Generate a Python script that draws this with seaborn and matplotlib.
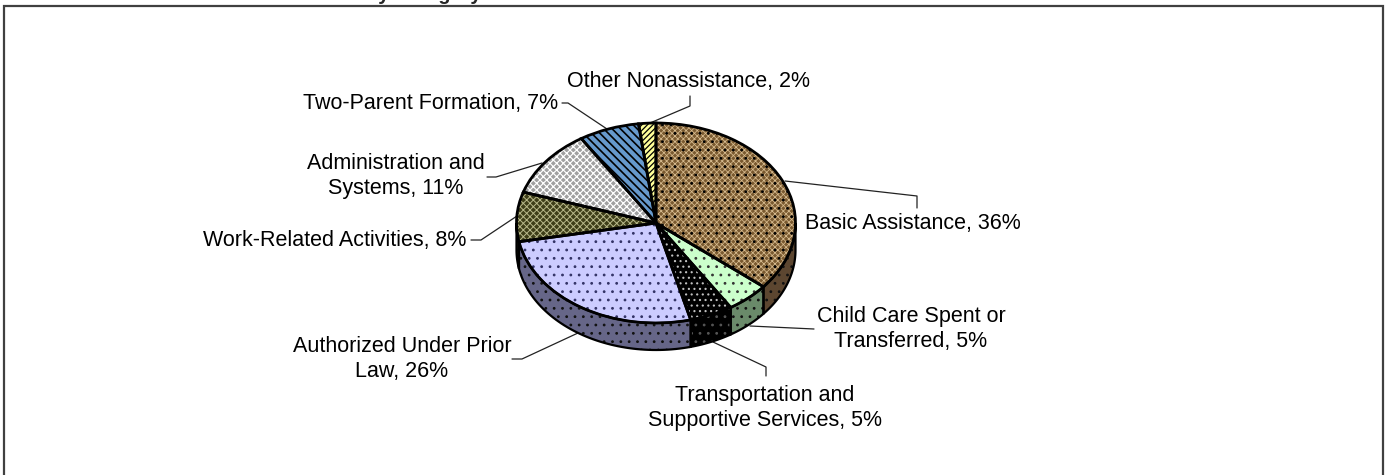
import matplotlib
matplotlib.use("Agg")
import matplotlib.pyplot as plt
import numpy as np
import seaborn as sns
from matplotlib.patches import Rectangle

# Values
categories = [
    "Basic Assistance", "Child Care Spent or\nTransferred",
    "Transportation and\nSupportive Services", "Authorized Under Prior\nLaw",
    "Work-Related Activities", "Administration and\nSystems",
    "Two-Parent Formation", "Other Nonassistance",
]
shares = [36, 5, 5, 26, 8, 11, 7, 2]

top_colors = ["#7A5A30", "#CCFFCC", "#000000", "#CCCCFF", "#3E3E18", "#A0A0A0", "#6699CC", "#FFFF99"]
fine_colors = ["#D8BC90", "#FFFFFF", "#000000", "#CCCCFF", "#B8B88A", "#FFFFFF", "#000000", "#000000"]
fine_hatches = ["xxxxxx", "", "", "", "xxxxx", "xxxxx", "\\\\\\\\", "//////"]
fine_widths = [0.55, 0.5, 0.5, 0.5, 0.7, 0.85, 1.2, 0.9]
dot_hatches = ["..", "..", "...", "..", "", "", "", ""]
dot_colors = ["#000000", "#333333", "#C0C0C0", "#333366", "#000000", "#000000", "#000000", "#000000"]
rim_colors = ["#5C4630", "#6A8A6A", "#000000", "#666688", "#2A2A10", "#808080", "#334D66", "#808050"]

# Layout in reference pixels
W, H = 1385, 475
CX, CY = 656, 223
RX, RY = 139.5, 100
DEPTH = 0.27

label_pos = [(805, 223), (911, 329), (765, 408), (402, 359), (335, 240), (396, 176), (431, 104), (688, 82)]
label_align = ["left", "center", "center", "center", "center", "center", "center", "center"]
leaders = [
    [(785, 181), (917, 196), (917, 208)],
    [(750, 326), (814, 329)],
    [(713, 342), (766, 367), (766, 376)],
    [(578, 333), (522, 359), (512, 359)],
    [(517, 216), (481, 240), (471, 240)],
    [(542, 163), (496, 177), (487, 177)],
    [(607, 129), (568, 103), (562, 103)],
    [(650, 123), (690, 106), (690, 96)],
]


def to_data(px, py):
    return (px - CX) / RX, (CY - py) / RY


def draw_pie(ax, colors, hatches, edge, linewidth=0, hatch_widths=None):
    wedges, _ = ax.pie(shares, colors=colors, startangle=90, counterclock=False, radius=1,
                       wedgeprops={"linewidth": linewidth})
    for i, w in enumerate(wedges):
        w.set_hatch(hatches[i])
        w.set_edgecolor(edge[i])
        if hatch_widths is not None:
            w._hatch_linewidth = hatch_widths[i]
    return wedges


def rim_polygon(a0, a1, n=60):
    th = np.radians(np.linspace(a0, a1, n))
    x, y = np.sin(th), np.cos(th)
    xs = np.r_[x, x[::-1]]
    ys = np.r_[y, (y - DEPTH)[::-1]]
    return xs, ys


sns.set_theme(style="white")
plt.rcParams["font.family"] = ["Liberation Sans", "DejaVu Sans"]
plt.rcParams["hatch.linewidth"] = 0.8

fig = plt.figure(figsize=(W / 100, H / 100), dpi=100, facecolor="white")
ax = fig.add_axes([0, 0, 1, 1])

# Side wall: only the part of each slice facing the viewer
edges = np.cumsum([0] + shares) * 3.6
for i in range(len(shares)):
    a0, a1 = max(edges[i], 90), min(edges[i + 1], 270)
    if a1 <= a0:
        continue
    xs, ys = rim_polygon(a0, a1)
    ax.fill(xs, ys, facecolor=rim_colors[i], edgecolor="none", zorder=1)
    ax.fill(xs, ys, facecolor="none", edgecolor="#555555" if i == 2 else "#111111",
            hatch="..", linewidth=0, zorder=1.1)
    ax.fill(xs, ys, facecolor="none", edgecolor="black", linewidth=1.6, zorder=1.2)

# Top face: colour, fine pattern, sparse dots, then outlines
draw_pie(ax, top_colors, fine_hatches, fine_colors, hatch_widths=fine_widths)
draw_pie(ax, ["none"] * 8, dot_hatches, dot_colors)
draw_pie(ax, ["none"] * 8, [""] * 8, ["black"] * 8, linewidth=2.0)

ax.set_aspect("auto")
ax.set_xlim(-CX / RX, (W - CX) / RX)
ax.set_ylim((CY - H) / RY, CY / RY)
ax.axis("off")

for name, share, pos, ha, line in zip(categories, shares, label_pos, label_align, leaders):
    x, y = to_data(*pos)
    ax.text(x, y, f"{name}, {share}%", ha=ha, va="center", fontsize=15.5, color="black",
            linespacing=1.3, zorder=6)
    pts = np.array([to_data(*p) for p in line])
    ax.plot(pts[:, 0], pts[:, 1], color="#222222", lw=0.9, zorder=0.5)

# Chart frame, cut off at the bottom, and the clipped title above it
fig.add_artist(Rectangle((3.5 / W, -0.02), (W - 5.5) / W, 1.02 - 5.5 / H, transform=fig.transFigure,
                         facecolor="none", edgecolor="#404040", linewidth=1.6))
fig.text(481 / W, 1 - 0.5 / H, "by Category", ha="right", va="baseline", fontsize=14.4, fontweight="bold")

fig.savefig("out.png", dpi=100)
